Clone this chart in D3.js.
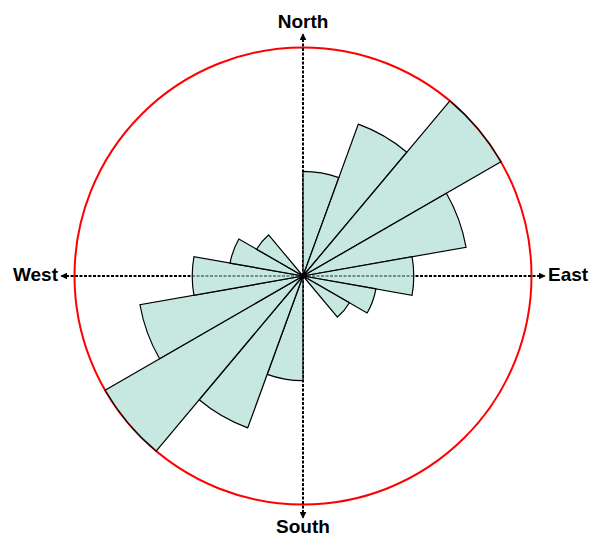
<!DOCTYPE html>
<html>
<head>
<meta charset="utf-8">
<script src="https://cdn.jsdelivr.net/npm/d3@7/dist/d3.min.js"></script>
<style>
html, body { margin: 0; padding: 0; background: #fff; }
svg { display: block; }
</style>
</head>
<body>
<script>
// Bin start azimuths (degrees clockwise from North), 20-degree bins
const binStart = [0, 20, 40, 60, 80, 100, 120, 140, 160, 180, 200, 220, 240, 260, 280, 300, 320, 340];
// Frequency per bin (axial data, mirrored)
const counts = [4.2, 10.0, 20, 10.5, 4.7, 2.1, 1.1, 0, 0, 4.2, 10.0, 20, 10.5, 4.7, 2.1, 1.1, 0, 0];
const binWidth = 20;
const maxCount = 20;
const compassLabels = ["North", "East", "South", "West"];
const compassAngles = [0, 90, 180, 270];

const W = 589, H = 537;
const cx = 303, cy = 276;
const R = 228.5;
const axisLen = 242;

const svg = d3.select("body").append("svg").attr("width", W).attr("height", H);
const g = svg.append("g").attr("transform", `translate(${cx},${cy})`);

const r = d3.scaleSqrt().domain([0, maxCount]).range([0, R]);
const toRad = d => d * Math.PI / 180;

// outer red circle
g.append("circle").attr("r", r(maxCount)).attr("fill", "none")
  .attr("stroke", "#ff0000").attr("stroke-width", 2);

// arrow marker
svg.append("defs").append("marker")
  .attr("id", "arr").attr("viewBox", "0 0 10 10").attr("refX", 9).attr("refY", 5)
  .attr("markerWidth", 7).attr("markerHeight", 7).attr("markerUnits", "userSpaceOnUse")
  .attr("orient", "auto")
  .append("path").attr("d", "M0,0 L10,5 L0,10 z").attr("fill", "#000");

// compass axes
compassAngles.forEach(a => {
  const x = Math.sin(toRad(a)) * axisLen, y = -Math.cos(toRad(a)) * axisLen;
  g.append("line").attr("x1", 0).attr("y1", 0).attr("x2", x).attr("y2", y)
    .attr("stroke", "#000").attr("stroke-width", 2).attr("stroke-dasharray", "3,1.5")
    .attr("marker-end", "url(#arr)");
});

// rose sectors
const arc = d3.arc().innerRadius(0);
g.selectAll("path.sector").data(binStart.map((s, i) => ({ s, v: counts[i] })).filter(d => d.v > 0))
  .join("path").attr("class", "sector")
  .attr("d", d => arc({ outerRadius: r(d.v), startAngle: toRad(d.s), endAngle: toRad(d.s + binWidth) }))
  .attr("fill", "#a8dcd1").attr("fill-opacity", 0.65)
  .attr("stroke", "#000").attr("stroke-width", 1.2).attr("stroke-linejoin", "miter");

// labels
const lab = svg.append("g").attr("font-family", "Liberation Sans, Arial, sans-serif")
  .attr("font-weight", "bold").attr("font-size", 19).attr("fill", "#000");
lab.append("text").attr("x", cx).attr("y", 28).attr("text-anchor", "middle").text(compassLabels[0]);
lab.append("text").attr("x", 548).attr("y", 281).attr("text-anchor", "start").text(compassLabels[1]);
lab.append("text").attr("x", cx).attr("y", 533).attr("text-anchor", "middle").text(compassLabels[2]);
lab.append("text").attr("x", 58).attr("y", 281).attr("text-anchor", "end").text(compassLabels[3]);
</script>
</body>
</html>
